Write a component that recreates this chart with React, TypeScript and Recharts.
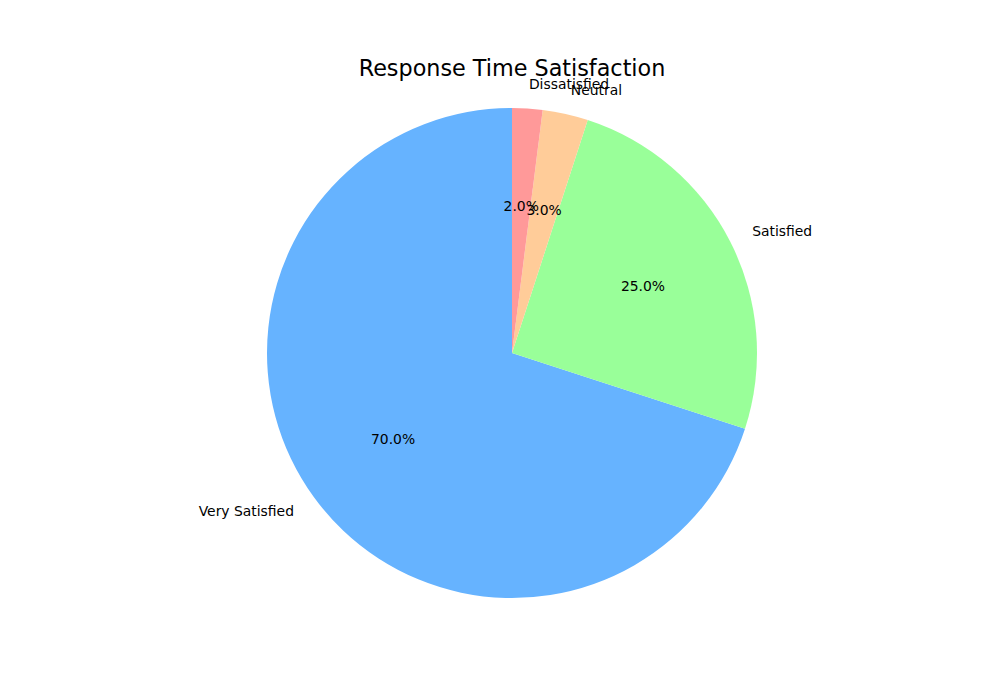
import { Cell, Customized, Pie, PieChart } from 'recharts';

const categories = ['Very Satisfied', 'Satisfied', 'Neutral', 'Dissatisfied'];
const shares = [70, 25, 3, 2];
const colors = ['#66b3ff', '#99ff99', '#ffcc99', '#ff9999'];

const data = categories.map((name, i) => ({ name, value: shares[i] }));

const RADIAN = Math.PI / 180;
const FONT = 'DejaVu Sans, sans-serif';

// matplotlib style: name at 1.1 r, percentage at 0.6 r
function renderLabel(props: any) {
  const { cx, cy, midAngle, outerRadius, percent, name } = props;
  const cos = Math.cos(-midAngle * RADIAN);
  const sin = Math.sin(-midAngle * RADIAN);
  const lx = cx + outerRadius * 1.1 * cos;
  const ly = cy + outerRadius * 1.1 * sin;
  const px = cx + outerRadius * 0.6 * cos;
  const py = cy + outerRadius * 0.6 * sin;
  return (
    <g>
      <text
        x={lx}
        y={ly}
        textAnchor={lx >= cx ? 'start' : 'end'}
        dominantBaseline="central"
        fontSize={13.9}
        fontFamily={FONT}
        fill="#000"
      >
        {name}
      </text>
      <text
        x={px}
        y={py}
        textAnchor="middle"
        dominantBaseline="central"
        fontSize={13.9}
        fontFamily={FONT}
        fill="#000"
      >
        {`${(percent * 100).toFixed(1)}%`}
      </text>
    </g>
  );
}

export default function App() {
  return (
    <div style={{ position: 'absolute', left: 0, top: 0, width: 1000, height: 700, background: '#fff' }}>
      <PieChart width={1000} height={700} margin={{ top: 0, right: 0, bottom: 0, left: 0 }}>
        <Pie
          data={data}
          dataKey="value"
          nameKey="name"
          cx={512}
          cy={353}
          outerRadius={245}
          startAngle={90}
          endAngle={450}
          stroke="none"
          label={renderLabel}
          labelLine={false}
          isAnimationActive={false}
        >
          {data.map((d, i) => (
            <Cell key={d.name} fill={colors[i]} />
          ))}
        </Pie>
        <Customized
          component={() => (
            <text x={512} y={68} textAnchor="middle" dominantBaseline="central" fontSize={22.3} fontFamily={FONT} fill="#000">
              Response Time Satisfaction
            </text>
          )}
        />
      </PieChart>
    </div>
  );
}
